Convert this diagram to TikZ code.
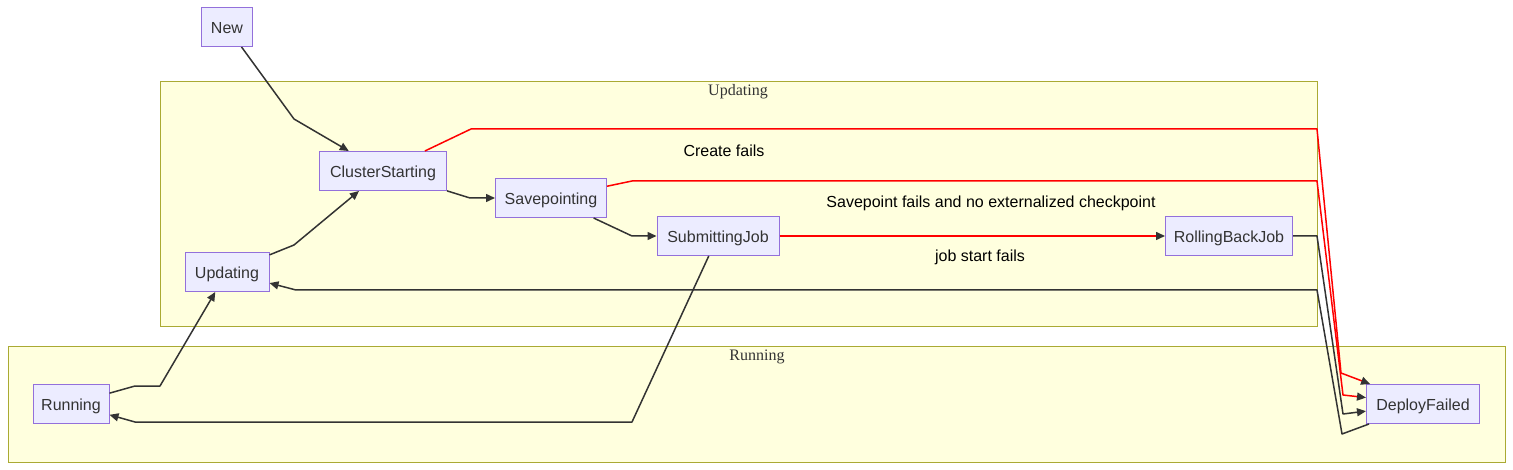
\documentclass[tikz,border=0pt]{standalone}
\usepackage{fontspec}
\setmainfont{Liberation Serif}
\setsansfont{Liberation Sans}
\usetikzlibrary{arrows.meta}
\definecolor{nodefill}{HTML}{ECECFF}
\definecolor{nodeline}{HTML}{9370DB}
\definecolor{groupfill}{HTML}{FFFFDE}
\definecolor{groupline}{HTML}{AAAA33}
\definecolor{edgegray}{HTML}{333333}
\tikzset{
  state/.style={draw=nodeline, fill=nodefill, line width=1pt, minimum height=39pt,
    inner sep=0pt, text height=13pt, text depth=0pt,
    font=\sffamily\fontsize{16}{19}\selectfont, text=edgegray},
  group/.style={draw=groupline, fill=groupfill, line width=1pt},
  grouptitle/.style={font=\rmfamily\fontsize{16}{19}\selectfont, text=edgegray},
  trans/.style={draw=edgegray, line width=1.5pt, line join=round,
    -{Triangle[length=9pt,width=8pt,color=edgegray]}},
  failtrans/.style={trans, draw=red},
  translabel/.style={font=\sffamily\fontsize{16}{19}\selectfont, text=black},
}
\begin{document}
\begin{tikzpicture}[x=1pt, y=-1pt]
      \useasboundingbox (0,0) rectangle (1513,470);
      % groups
      \draw[group] (160,82) rectangle (1317,327);
      \node[grouptitle] (updatingtitle) at (738,92) {Updating};
      \draw[group] (8,347) rectangle (1505,462);
      \node[grouptitle] (runningtitle) at (757,357) {Running};
      % states
      \node[state, minimum width=51pt]  (New)             at (227,27)  {New};
      \node[state, minimum width=127pt] (ClusterStarting) at (383,171) {ClusterStarting};
      \node[state, minimum width=111pt] (Savepointing)    at (551,198) {Savepointing};
      \node[state, minimum width=122pt] (SubmittingJob)   at (718,236) {SubmittingJob};
      \node[state, minimum width=127pt] (RollingBackJob)  at (1229,236) {RollingBackJob};
      \node[state, minimum width=84pt]  (Updating)        at (227,272) {Updating};
      \node[state, minimum width=76pt]  (Running)         at (71,404)  {Running};
      \node[state, minimum width=113pt] (DeployFailed)    at (1423,404) {DeployFailed};
      % transitions
      \draw[trans] (New) -- (294,119) -- (ClusterStarting);
      \draw[trans] (Updating) -- (294,245) -- (ClusterStarting);
      \draw[trans] (ClusterStarting) -- (470,198) -- (Savepointing);
      \draw[trans] (Savepointing) -- (632,236) -- (SubmittingJob);
      \draw[failtrans] (SubmittingJob) -- (RollingBackJob);
      \draw[failtrans] (ClusterStarting) -- (471,129) -- (1317,129) -- (1341,373) -- (DeployFailed);
      \draw[failtrans] (Savepointing) -- (632,181) -- (1317,181) -- (1343,395) -- (DeployFailed);
      \draw[trans] (RollingBackJob) -- (1317,236) -- (1343,414) -- (DeployFailed);
      \draw[trans] (DeployFailed) -- (1342,434) -- (1317,290) -- (296,290) -- (Updating);
      \draw[trans] (SubmittingJob) -- (632,422) -- (135,422) -- (Running);
      \draw[trans] (Running) -- (135,386) -- (160,386) -- (Updating);
      % labels
      \node[translabel] (createfails)    at (724,151) {Create fails};
      \node[translabel] (savepointfails) at (991,203) {Savepoint fails and no externalized checkpoint};
      \node[translabel] (jobstartfails)  at (980,257) {job start fails};
\end{tikzpicture}
\end{document}
